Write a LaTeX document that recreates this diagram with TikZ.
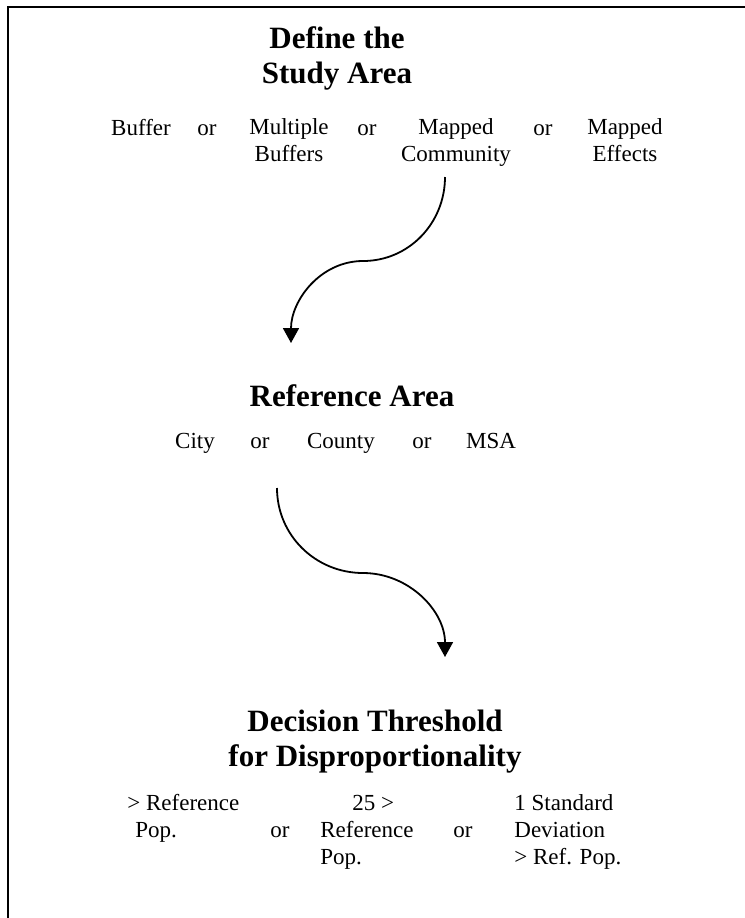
\documentclass[tikz,border=0pt]{standalone}
\usepackage{fontspec}
\setmainfont{Liberation Serif}
\usetikzlibrary{arrows.meta}

\begin{document}
\begin{tikzpicture}[x=0.5pt, y=-0.5pt,
  title/.style={font=\fontsize{15.5}{17.5}\selectfont\bfseries, align=center, anchor=base, inner sep=0pt},
  item/.style={font=\fontsize{11.5}{13.5}\selectfont, align=center, anchor=base, inner sep=0pt},
  itemleft/.style={item, align=left, anchor=base west},
  flow/.style={line width=0.9pt, -{Triangle[width=8pt,length=7.5pt]}}]
\useasboundingbox (0,0) rectangle (745,918);
\draw [line width=1pt] (745,7) -- (8,7) -- (8,918);

% study area (base = last line)
\node [title] (study) at (337,83) {Define the\\Study Area};
\node [item] (buffer) at (141,135) {Buffer};
\node [item] (or1) at (207,135) {or};
\node [item] (multiple) at (289,161) {Multiple\\Buffers};
\node [item] (or2) at (367,135) {or};
\node [item] (community) at (456,161) {Mapped\\Community};
\node [item] (or3) at (543,135) {or};
\node [item] (effects) at (625,161) {Mapped\\Effects};

% reference area
\node [title] (reference) at (352,406) {Reference Area};
\node [item] (city) at (195,448) {City};
\node [item] (or4) at (260,448) {or};
\node [item] (county) at (341,448) {County};
\node [item] (or5) at (422,448) {or};
\node [item] (msa) at (491,448) {MSA};

% decision threshold
\node [title] (decision) at (375,766) {Decision Threshold\\for Disproportionality};
\node [itemleft] (refpop) at (127,837) {> Reference\\\hspace*{4pt}Pop.};
\node [item] (or6) at (280,837) {or};
\node [itemleft] (twentyfive) at (320,864) {\hspace*{16pt}25 >\\Reference\\Pop.};
\node [item] (or7) at (463,837) {or};
\node [itemleft] (stddev) at (514,864) {1 Standard\\Deviation\\> Ref. Pop.};

% connectors
\coordinate (s1) at (445,177);
\coordinate (m1) at (363,261);
\coordinate (e1) at (291,343);
\coordinate (s2) at (277,488);
\coordinate (m2) at (363,573);
\coordinate (e2) at (445,657);
\draw [flow] (s1) to[out=-90,in=0] (m1) to[out=180,in=90] (e1);
\draw [flow] (s2) to[out=-90,in=180] (m2) to[out=0,in=90] (e2);
\end{tikzpicture}
\end{document}
